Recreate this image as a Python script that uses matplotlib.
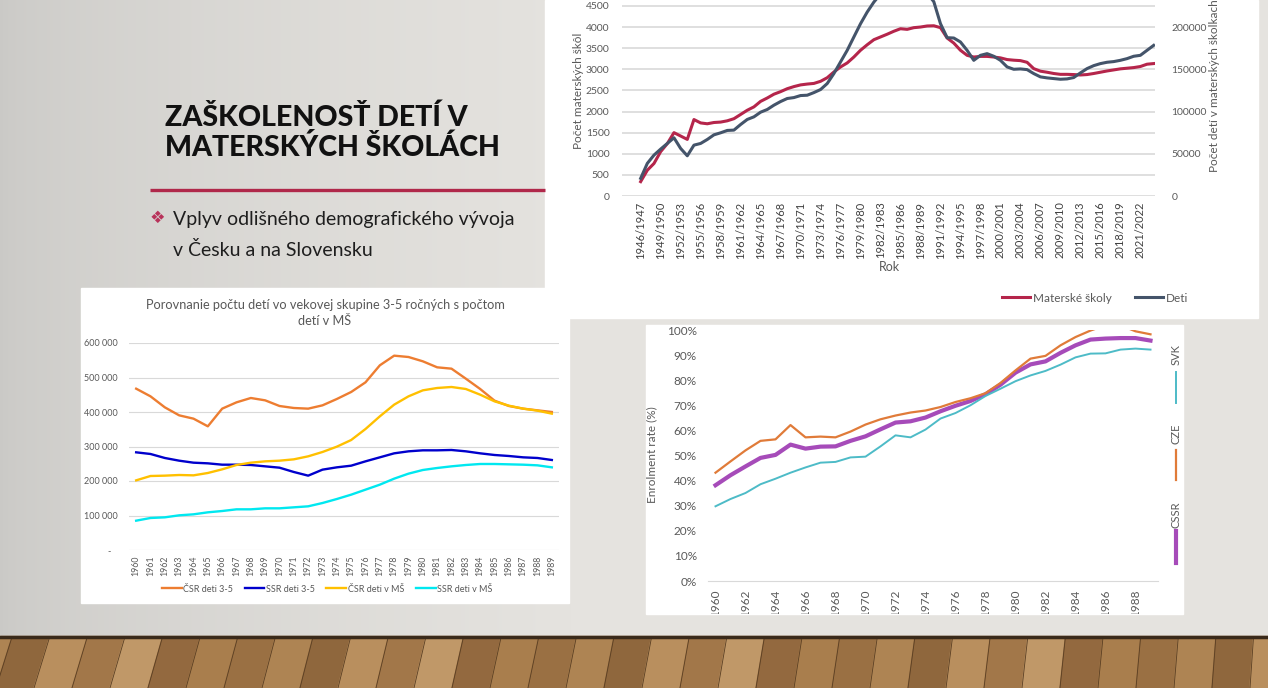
import numpy as np
import matplotlib.pyplot as plt
from matplotlib.patches import Rectangle, Polygon
from matplotlib.transforms import Bbox, TransformedBbox

plt.rcParams['font.family'] = ['Lato', 'DejaVu Sans']

W, H = 1268, 688

# chart 1: kindergartens in Slovakia 1946/1947 - 2023/2024
school_years = [f"{y}/{y + 1}" for y in range(1946, 2024)]
materske_skoly = [340, 610, 770, 1050, 1240, 1500, 1420, 1340, 1810, 1730,
                  1710, 1740, 1750, 1780, 1830, 1930, 2030, 2110, 2240, 2320,
                  2410, 2470, 2540, 2590, 2630, 2650, 2665, 2715, 2800, 2935,
                  3055, 3150, 3290, 3450, 3580, 3700, 3765, 3830, 3900, 3960,
                  3945, 3985, 4000, 4025, 4030, 3985, 3740, 3620, 3450, 3330,
                  3290, 3305, 3305, 3290, 3270, 3230, 3215, 3205, 3165, 3015,
                  2955, 2930, 2900, 2880, 2880, 2875, 2865, 2875, 2900, 2930,
                  2960, 2985, 3010, 3025, 3040, 3065, 3120, 3135]
deti = [20900, 38600, 48400, 55500, 62200, 68900, 56300, 47600, 60200, 62200,
        66900, 72400, 74800, 77600, 78000, 84600, 90600, 93700, 99200, 102400,
        107500, 111800, 115400, 116500, 118900, 119300, 122400, 126000, 133100, 144900,
        158700, 172400, 188200, 203900, 217700, 229500, 239000, 246000, 250000, 252000,
        253000, 252000, 248000, 240000, 230000, 204000, 187400, 187000, 182300, 172400,
        160600, 166500, 168500, 165400, 160600, 152800, 150000, 150400, 149600, 144900,
        141000, 139800, 139000, 138200, 138600, 140200, 145700, 150800, 154300, 156700,
        158300, 159100, 160600, 162600, 165400, 166500, 172400, 178300]

# chart 2: children aged 3-5 vs. children in kindergartens
years_2 = list(range(1960, 1990))
csr_deti = [467600, 445400, 413500, 390300, 380700, 358500, 409700, 428000, 440600, 433800,
            417400, 411600, 409700, 419300, 437700, 458000, 486000, 535300, 563300, 559400,
            546900, 529500, 525600, 496600, 466700, 432900, 417400, 409700, 404800, 400000]
ssr_deti = [283100, 278300, 266700, 258900, 253100, 251200, 247300, 247300, 246400, 242500,
            238600, 226100, 215500, 232900, 239600, 244400, 257000, 268600, 280200, 286000,
            288900, 288900, 289900, 286000, 280200, 275400, 272500, 268600, 266700, 260900]
csr_ms = [201900, 214500, 215500, 217400, 216400, 223200, 233800, 246400, 253100, 257000,
          258900, 262800, 271500, 284100, 299500, 318800, 350700, 387400, 421300, 445400,
          462800, 469600, 472500, 466700, 450200, 430900, 418400, 409700, 403900, 395200]
ssr_ms = [85000, 92800, 94700, 100500, 103400, 109200, 113000, 117900, 117900, 120800,
          120800, 123700, 126600, 136200, 147800, 160400, 174900, 189400, 206800, 221300,
          231900, 237700, 242500, 246400, 249300, 249300, 248300, 247300, 245400, 239600]
y2_ticks = [0, 100000, 200000, 300000, 400000, 500000, 600000]
y2_labels = ['-   ', '100 000', '200 000', '300 000', '400 000', '500 000', '600 000']

# chart 3: enrolment rate
years_3 = list(range(1960, 1990))
cssr = [0.382, 0.422, 0.457, 0.491, 0.503, 0.544, 0.528, 0.536, 0.537, 0.559,
        0.577, 0.605, 0.632, 0.637, 0.652, 0.677, 0.699, 0.718, 0.745, 0.783,
        0.831, 0.864, 0.876, 0.910, 0.940, 0.963, 0.967, 0.969, 0.969, 0.959]
cze = [0.432, 0.477, 0.521, 0.559, 0.565, 0.622, 0.573, 0.576, 0.573, 0.596,
       0.624, 0.645, 0.660, 0.672, 0.680, 0.694, 0.714, 0.729, 0.749, 0.790,
       0.840, 0.887, 0.898, 0.940, 0.973, 0.999, 1.020, 1.020, 0.996, 0.984]
svk = [0.298, 0.327, 0.351, 0.386, 0.408, 0.432, 0.453, 0.472, 0.475, 0.493,
       0.496, 0.537, 0.581, 0.573, 0.604, 0.648, 0.670, 0.701, 0.738, 0.767,
       0.797, 0.820, 0.838, 0.863, 0.892, 0.907, 0.908, 0.923, 0.927, 0.923]

GRAY_TXT = '#595959'
GRID = '#D9D9D9'

fig = plt.figure(figsize=(W / 100, H / 100), dpi=100)


def rect(x0, y0, x1, y1):
    return [x0 / W, 1 - y1 / H, (x1 - x0) / W, (y1 - y0) / H]


def clip_to(artists, x0, y0, x1, y1):
    box = TransformedBbox(Bbox.from_extents(x0 / W, 1 - y1 / H, x1 / W, 1 - y0 / H), fig.transFigure)
    for a in artists:
        a.set_clip_box(box)
        a.set_clip_on(True)


# slide background
bg = fig.add_axes([0, 0, 1, 1], zorder=-10)
gx = np.linspace(0, 1, W)
shade = np.clip(gx / 0.45, 0, 1) ** 0.6
left_c = np.array([202, 201, 198]) / 255
mid_c = np.array([229, 227, 223]) / 255
row = left_c[None, :] * (1 - shade[:, None]) + mid_c[None, :] * shade[:, None]
grad = np.repeat(row[None, :, :], H, axis=0)
bg.imshow(grad, extent=(0, W, H, 0), aspect='auto', zorder=0)
bg.set_xlim(0, W)
bg.set_ylim(H, 0)
bg.axis('off')

# wooden floor
plank_cols = ['#9A7043', '#AE8453', '#8F673D', '#B98F5E', '#A27749', '#C09868', '#93693F', '#A97E4D']
bg.add_patch(Rectangle((0, 636), W, 52, color='#9A7043', zorder=1))
for k, xb in enumerate(np.arange(-80, W + 80, 38)):
    xt = xb + 16 - 0.01 * xb
    pts = [(xb, H), (xb + 38, H), (xt + 38 * 0.98, 637), (xt, 637)]
    bg.add_patch(Polygon(pts, closed=True, color=plank_cols[k % len(plank_cols)], zorder=1))
    bg.plot([xb, xt], [H, 637], color='#5A3E22', lw=0.6, zorder=1.5)
bg.plot([0, W], [637, 637], color='#3A2A1A', lw=2.5, zorder=1.6)

# white chart panels
bg.add_patch(Rectangle((545, 0), 713, 318, color='white', zorder=2))
bg.add_patch(Rectangle((81, 288), 488, 315, color='white', zorder=2))
bg.add_patch(Rectangle((646, 325), 537, 289, color='white', zorder=2))

# slide title and bullet
bg.text(165, 126, 'ZAŠKOLENOSŤ DETÍ V', fontsize=20.5, fontweight='black', color='#111111', va='baseline', zorder=3)
bg.text(165, 156, 'MATERSKÝCH ŠKOLÁCH', fontsize=20.5, fontweight='black', color='#111111', va='baseline', zorder=3)
bg.plot([150, 545], [190, 190], color='#B0284A', lw=2.4, zorder=3, solid_capstyle='butt')
bg.text(150, 218, '❖', fontsize=12.5, color='#B8325A', family='DejaVu Sans', va='center', zorder=3)
bg.text(173, 219, 'Vplyv odlišného demografického vývoja', fontsize=14, color='#1E1E1E', va='center', zorder=3)
bg.text(173, 250, 'v Česku a na Slovensku', fontsize=14, color='#1E1E1E', va='center', zorder=3)

# ---------------- chart 1 ----------------
ax1 = fig.add_axes(rect(622, 0, 1155, 196))
xi = np.arange(len(school_years))
l_ms, = ax1.plot(xi, materske_skoly, color='#B5254B', lw=2.2, label='Materské školy')
ax1.set_xlim(-2.8, 77.2)
ax1.set_ylim(0, 4640)
ax1.set_yticks(range(0, 5000, 500))
ax1.set_xticks(xi[::3], [school_years[i] for i in xi[::3]], rotation=90)
ax1.grid(axis='y', color=GRID, lw=1.2)
ax1.set_axisbelow(True)
ax1.tick_params(axis='y', length=0, labelsize=7.5, colors=GRAY_TXT, pad=9)
ax1.tick_params(axis='x', length=0, labelsize=8, colors='#404040', pad=4)
ax1.set_facecolor('none')
for s in ax1.spines.values():
    s.set_visible(False)

ax1b = ax1.twinx()
l_deti, = ax1b.plot(xi, deti, color='#44546A', lw=2.2, label='Deti')
ax1b.set_ylim(0, 4640 * 50)
ax1b.set_yticks(range(0, 250000, 50000))
ax1b.tick_params(axis='y', length=0, labelsize=7.5, colors=GRAY_TXT, pad=12)
for s in ax1b.spines.values():
    s.set_visible(False)

bg.text(579, 91, 'Počet materských škôl', rotation=90, fontsize=8.5, color=GRAY_TXT, ha='center', va='center', zorder=3)
bg.text(1215, 86, 'Počet detí v materských školkach', rotation=90, fontsize=8.5, color=GRAY_TXT, ha='center', va='center', zorder=3)
bg.text(889, 267, 'Rok', fontsize=9, color=GRAY_TXT, ha='center', va='center', zorder=3)
ax1b.legend(handles=[l_ms, l_deti], loc='center', bbox_to_anchor=(1095 / W, 1 - 298 / H),
            bbox_transform=fig.transFigure, ncol=2, frameon=False, fontsize=8.5,
            handlelength=2.4, handletextpad=0.2, columnspacing=2.0, labelcolor=GRAY_TXT)

# ---------------- chart 2 ----------------
ax2 = fig.add_axes(rect(129, 343, 559, 550))
ax2.plot(years_2, csr_deti, color='#ED7D31', lw=1.7, label='ČSR deti 3-5')
ax2.plot(years_2, ssr_deti, color='#0000CC', lw=1.7, label='SSR deti 3-5')
ax2.plot(years_2, csr_ms, color='#FFC000', lw=1.7, label='ČSR deti v MŠ')
ax2.plot(years_2, ssr_ms, color='#00E8F0', lw=1.7, label='SSR deti v MŠ')
ax2.set_xlim(1959.5, 1989.5)
ax2.set_ylim(0, 600000)
ax2.set_yticks(y2_ticks, y2_labels)
ax2.set_xticks(years_2, [str(y) for y in years_2], rotation=90)
ax2.grid(axis='y', color=GRID, lw=0.8)
ax2.set_axisbelow(True)
ax2.tick_params(axis='y', length=0, labelsize=6.5, colors=GRAY_TXT, pad=8)
ax2.tick_params(axis='x', length=0, labelsize=6.3, colors=GRAY_TXT, pad=4)
ax2.set_facecolor('none')
for s in ax2.spines.values():
    s.set_visible(False)
bg.text(325, 313, 'Porovnanie počtu detí vo vekovej skupine 3-5 ročných s počtom\ndetí v MŠ',
        fontsize=9.2, color=GRAY_TXT, ha='center', va='center', linespacing=1.35, zorder=3)
ax2.legend(loc='center', bbox_to_anchor=(327 / W, 1 - 589 / H), bbox_transform=fig.transFigure,
           ncol=4, frameon=False, fontsize=6.5, handlelength=2.2, handletextpad=0.15,
           columnspacing=1.3, labelcolor=GRAY_TXT)

# ---------------- chart 3 ----------------
ax3 = fig.add_axes(rect(708, 330.3, 1158, 581))
c_cssr, c_cze, c_svk = '#A64BB9', '#E07B39', '#4DBBC7'
ax3.plot(years_3, cssr, color=c_cssr, lw=3.0)
ax3.plot(years_3, cze, color=c_cze, lw=1.6)
ax3.plot(years_3, svk, color=c_svk, lw=1.4)
ax3.set_xlim(1959.5, 1989.5)
ax3.set_ylim(0, 1.0)
ax3.set_yticks(np.linspace(0, 1, 11), [f'{p}%' for p in range(0, 110, 10)])
ax3.set_xticks(years_3[::2], [str(y) for y in years_3[::2]], rotation=90)
ax3.tick_params(axis='y', length=0, labelsize=8.5, colors=GRAY_TXT, pad=8)
ax3.tick_params(axis='x', length=0, labelsize=8.5, colors=GRAY_TXT, pad=6)
ax3.set_facecolor('none')
for side in ['top', 'right', 'left']:
    ax3.spines[side].set_visible(False)
ax3.spines['bottom'].set_color(GRID)
clip_to(ax3.get_xticklabels(), 646, 325, 1183, 614)
bg.text(652, 455, 'Enrolment rate (%)', rotation=90, fontsize=8.5, color=GRAY_TXT, ha='center', va='center', zorder=3)

legend3 = [('SVK', c_svk, 1.4, 355, 372, 403),
           ('CZE', c_cze, 1.6, 434, 450, 480),
           ('CSSR', c_cssr, 3.0, 515, 531, 563)]
for name, col, lw, ty, ly0, ly1 in legend3:
    bg.text(1176, ty, name, rotation=90, fontsize=8, color=GRAY_TXT, ha='center', va='center', zorder=3)
    bg.plot([1176, 1176], [ly0, ly1], color=col, lw=lw, zorder=3)

fig.savefig('out.png', dpi=100)
